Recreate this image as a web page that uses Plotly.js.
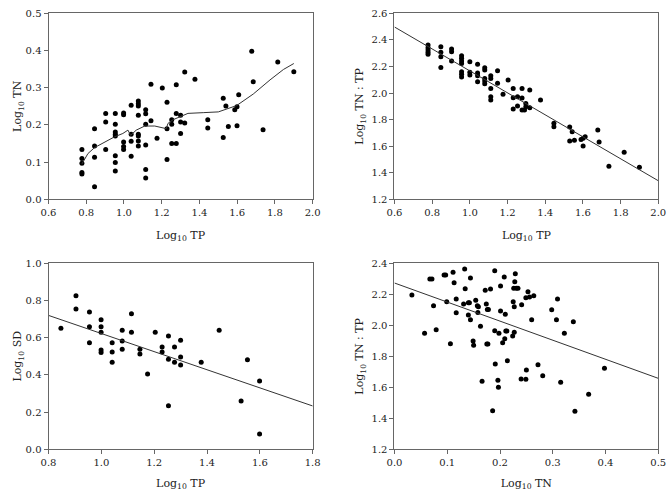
<!DOCTYPE html>
<html>
<head>
<meta charset="utf-8">
<script src="https://cdn.plot.ly/plotly-3.0.1.min.js"></script>
<style>html,body{margin:0;padding:0;background:#fff;}#chart{width:670px;height:493px;}</style>
</head>
<body>
<div id="chart"></div>
<script>
// Panel A: Log10 TP vs Log10 TN
const aTP = [0.777,0.777,0.777,0.777,0.777,
  0.844,0.844,0.844,0.844,
  0.903,0.903,0.903,
  0.954,0.954,0.954,0.954,0.954,0.954,0.954,0.954,
  0.998,0.998,0.998,0.998,0.998,
  1.038,1.038,1.038,1.038,
  1.076,1.076,1.076,1.076,1.076,1.076,1.076,1.076,
  1.115,1.115,1.115,1.115,1.115,1.115,
  1.143,1.143,1.175,1.203,
  1.228,1.228,1.228,
  1.253,1.253,1.253,
  1.277,1.277,1.277,
  1.300,1.300,1.300,
  1.322,1.322,1.376,1.444,1.444,
  1.526,1.526,1.540,1.553,1.587,1.599,1.599,1.608,
  1.677,1.685,1.737,1.815,1.900];
const aTN = [0.134,0.110,0.097,0.072,0.068,
  0.190,0.143,0.113,0.034,
  0.231,0.208,0.134,
  0.231,0.202,0.181,0.175,0.170,0.117,0.099,0.076,
  0.232,0.227,0.154,0.142,0.134,
  0.253,0.175,0.156,0.116,
  0.264,0.257,0.251,0.226,0.175,0.170,0.157,0.143,
  0.241,0.230,0.202,0.146,0.080,0.057,
  0.309,0.211,0.164,0.299,
  0.261,0.190,0.107,
  0.214,0.202,0.150,
  0.308,0.231,0.150,
  0.226,0.208,0.177,
  0.205,0.342,0.323,0.214,0.192,
  0.272,0.166,0.251,0.196,0.241,0.249,0.198,0.281,
  0.398,0.316,0.187,0.369,0.343];
// smoothing curve of panel A
const aFitTP = [0.777,0.809,0.844,0.897,0.950,0.994,1.021,1.035,1.065,1.110,1.163,1.224,1.233,1.260,1.339,1.420,1.500,1.597,1.685,1.774,1.845,1.900];
const aFitTN = [0.095,0.123,0.139,0.154,0.168,0.177,0.186,0.172,0.186,0.197,0.197,0.190,0.204,0.214,0.231,0.233,0.235,0.252,0.283,0.321,0.349,0.365];

// Panel B: Log10 TP vs Log10 TN:TP
const bTP = [0.778,0.778,0.778,0.778,0.778,
  0.846,0.846,0.846,0.846,
  0.903,0.903,0.903,
  0.956,0.956,0.956,0.956,0.956,0.956,0.956,
  1.000,1.000,1.000,
  1.041,1.041,1.041,1.041,
  1.079,1.079,1.079,1.079,1.079,
  1.111,1.111,1.111,1.111,1.111,
  1.147,1.147,1.176,1.203,
  1.230,1.230,1.230,
  1.253,1.253,
  1.277,1.277,1.277,
  1.297,1.297,1.318,1.318,1.290,1.375,
  1.446,1.446,1.530,1.530,1.543,1.555,1.590,1.601,1.601,1.612,
  1.679,1.686,1.738,1.819,1.900];
const bRatio = [2.361,2.341,2.323,2.306,2.291,
  2.348,2.306,2.273,2.193,
  2.331,2.311,2.241,
  2.281,2.261,2.241,2.223,2.160,2.141,2.120,
  2.235,2.156,2.135,
  2.216,2.150,2.130,2.085,
  2.190,2.173,2.110,2.090,2.070,
  2.130,2.110,2.035,1.972,1.947,
  2.168,2.073,1.990,2.098,
  2.035,1.965,1.879,
  1.972,1.902,
  2.035,1.962,1.872,
  1.922,1.897,2.022,1.889,1.872,1.947,
  1.772,1.746,1.744,1.639,1.709,1.644,1.651,1.659,1.601,1.671,
  1.721,1.631,1.448,1.554,1.441];
const bFitTP = [0.6, 2.0];
const bFitRatio = [2.497, 1.340];

// Panel C: Log10 TP vs Log10 SD
const cTP = [0.847,0.904,0.904,0.955,0.955,0.955,0.999,0.999,0.999,0.999,0.999,
  1.041,1.041,1.041,1.079,1.079,1.079,1.114,1.114,1.146,1.146,1.175,1.204,
  1.230,1.230,1.254,1.254,1.254,1.277,1.277,1.300,1.300,1.300,1.378,1.446,
  1.553,1.599,1.529,1.599];
const cSD = [0.651,0.826,0.754,0.738,0.659,0.573,0.697,0.659,0.629,0.534,0.521,
  0.573,0.523,0.468,0.640,0.582,0.538,0.729,0.629,0.538,0.512,0.405,0.629,
  0.550,0.523,0.609,0.484,0.234,0.550,0.468,0.586,0.496,0.453,0.468,0.640,
  0.482,0.367,0.260,0.082];
const cFitTP = [0.8, 1.8];
const cFitSD = [0.720, 0.233];

// Panel D: Log10 TN vs Log10 TN:TP
const dTN = [0.033,0.057,0.067,0.071,0.074,0.079,0.094,0.097,0.099,0.106,0.111,0.113,0.117,0.117,
  0.131,0.133,0.134,0.140,0.142,0.140,0.144,0.144,0.149,0.150,0.154,0.157,0.158,0.159,0.163,0.166,
  0.172,0.174,0.176,0.178,0.175,0.177,0.182,0.186,0.190,0.190,0.191,0.196,0.197,0.198,0.201,0.201,
  0.205,0.208,0.209,0.210,0.211,0.213,0.214,
  0.229,0.228,0.226,0.231,0.234,0.225,0.227,0.241,0.253,0.249,0.256,0.264,0.260,0.227,0.224,
  0.272,0.250,0.240,0.249,0.281,0.298,0.309,0.307,0.322,0.315,0.339,0.342,0.368,0.398];
const dRatio = [2.195,1.948,2.299,2.299,2.126,1.972,2.325,2.325,2.152,1.881,2.342,2.275,2.170,2.081,
  2.137,2.363,2.236,2.146,2.146,2.066,2.305,2.036,1.899,1.872,2.161,2.126,2.083,2.120,1.994,1.639,
  2.226,2.137,2.102,2.102,1.879,1.879,2.234,1.449,2.352,1.965,1.750,1.645,1.600,1.948,2.254,2.092,
  1.888,2.312,1.914,2.071,1.963,1.963,1.772,
  2.333,2.281,2.239,2.239,2.239,2.152,2.120,2.133,2.217,2.178,2.182,2.191,2.036,1.955,1.931,
  1.746,1.712,1.654,1.652,1.675,2.101,2.170,2.036,1.948,1.632,2.023,1.445,1.555,1.723];
const dFitTN = [0.0, 0.5];
const dFitRatio = [2.273, 1.658];

const xTicksAB = [0.6,0.8,1.0,1.2,1.4,1.6,1.8,2.0];
const yTicksA = [0.0,0.1,0.2,0.3,0.4,0.5];
const yTicksB = [1.2,1.4,1.6,1.8,2.0,2.2,2.4,2.6];
const xTicksC = [0.8,1.0,1.2,1.4,1.6,1.8];
const yTicksC = [0.0,0.2,0.4,0.6,0.8,1.0];
const xTicksD = [0.0,0.1,0.2,0.3,0.4,0.5];
const yTicksD = [1.2,1.4,1.6,1.8,2.0,2.2,2.4];

const dot = {color:'#000', size:5};
const fitLine = {color:'#333', width:1};
const traces = [
  {x:aTP, y:aTN, mode:'markers', marker:dot, xaxis:'x', yaxis:'y'},
  {x:aFitTP, y:aFitTN, mode:'lines', line:fitLine, xaxis:'x', yaxis:'y'},
  {x:bTP, y:bRatio, mode:'markers', marker:dot, xaxis:'x2', yaxis:'y2'},
  {x:bFitTP, y:bFitRatio, mode:'lines', line:fitLine, xaxis:'x2', yaxis:'y2'},
  {x:cTP, y:cSD, mode:'markers', marker:dot, xaxis:'x3', yaxis:'y3'},
  {x:cFitTP, y:cFitSD, mode:'lines', line:fitLine, xaxis:'x3', yaxis:'y3'},
  {x:dTN, y:dRatio, mode:'markers', marker:dot, xaxis:'x4', yaxis:'y4'},
  {x:dFitTN, y:dFitRatio, mode:'lines', line:fitLine, xaxis:'x4', yaxis:'y4'}
];

const titleFont = {family:'DejaVu Serif', size:11, color:'#222'};
function ax(range, ticks, domain, anchor, title, standoff) {
  return {
    range: range, domain: domain, anchor: anchor,
    tickmode:'array', tickvals: ticks, ticktext: ticks.map(v => v.toFixed(1)),
    showline:true, mirror:true, linecolor:'#666', linewidth:1,
    ticks:'outside', ticklen:4, tickcolor:'#666', tickwidth:1,
    showgrid:false, zeroline:false,
    tickfont:{family:'DejaVu Serif', size:10, color:'#222'},
    title:{text:title, font:titleFont, standoff:standoff}
  };
}
const xL = [0.0724, 0.4667], xR = [0.5888, 0.9825];
const yT = [0.5957, 0.9730], yB = [0.0886, 0.4659];
const layout = {
  width:670, height:493,
  margin:{l:0, r:0, t:0, b:0},
  paper_bgcolor:'#fff', plot_bgcolor:'#fff',
  showlegend:false,
  xaxis: ax([0.6,2.0], xTicksAB, xL, 'y', 'Log<sub>10</sub> TP', 13),
  yaxis: ax([0.0,0.5], yTicksA, yT, 'x', 'Log<sub>10</sub> TN', 1),
  xaxis2: ax([0.6,2.0], xTicksAB, xR, 'y2', 'Log<sub>10</sub> TP', 13),
  yaxis2: ax([1.2,2.6], yTicksB, yT, 'x2', 'Log<sub>10</sub> TN : TP', 5),
  xaxis3: ax([0.8,1.8], xTicksC, xL, 'y3', 'Log<sub>10</sub> TP', 11),
  yaxis3: ax([0.0,1.0], yTicksC, yB, 'x3', 'Log<sub>10</sub> SD', 1),
  xaxis4: ax([0.0,0.5], xTicksD, xR, 'y4', 'Log<sub>10</sub> TN', 11),
  yaxis4: ax([1.2,2.4], yTicksD, yB, 'x4', 'Log<sub>10</sub> TN : TP', 5)
};
Plotly.newPlot('chart', traces, layout, {displayModeBar:false, staticPlot:true});
</script>
</body>
</html>
